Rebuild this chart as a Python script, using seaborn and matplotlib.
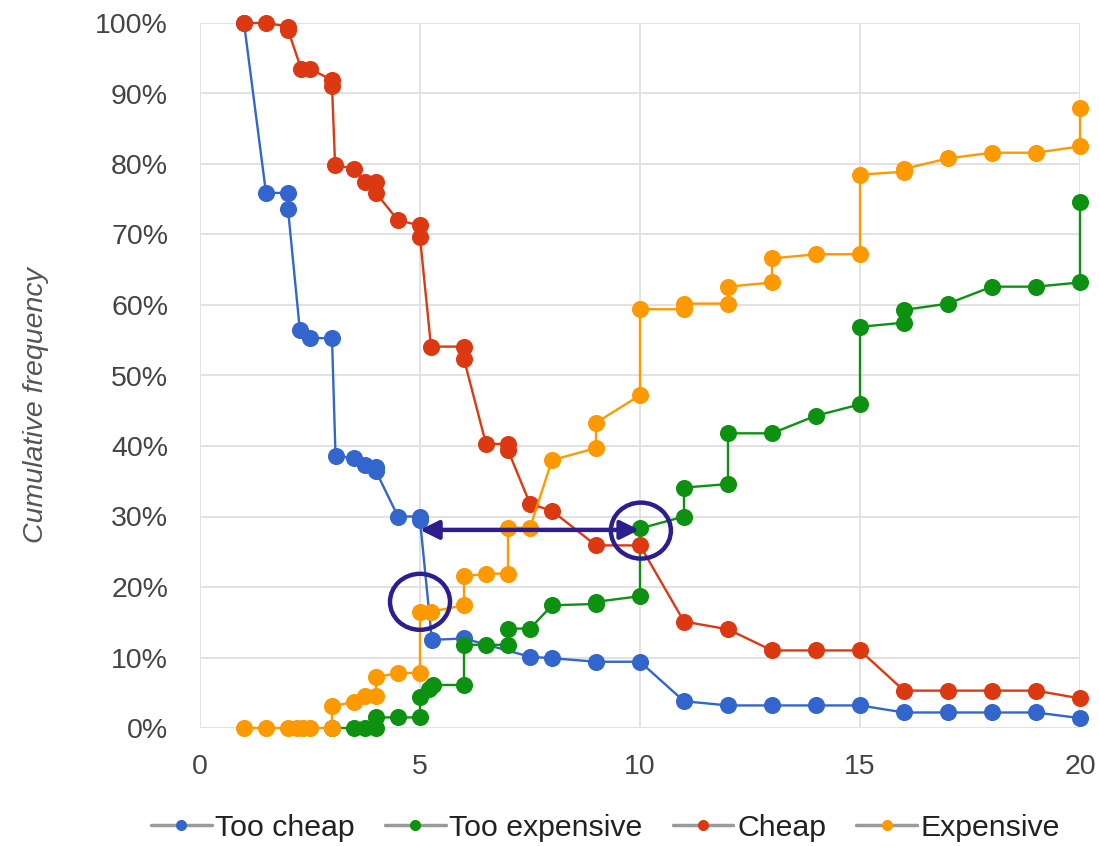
import matplotlib
matplotlib.use("Agg")
import matplotlib.pyplot as plt
from matplotlib.lines import Line2D
from matplotlib.patches import Ellipse
from matplotlib.ticker import PercentFormatter, MultipleLocator
import seaborn as sns
import pandas as pd

# ---------------- data ----------------
too_cheap_x = [1, 1.5, 2, 2, 2.27, 2.5, 3, 3.08, 3.5, 3.75, 4, 4, 4.5, 5, 5, 5.27, 6,
               7.5, 8, 9, 10, 11, 12, 13, 14, 15, 16, 17, 18, 19, 20]
too_cheap_y = [100, 75.9, 75.9, 73.6, 56.4, 55.3, 55.3, 38.6, 38.3, 37.3, 37.0, 36.4, 30.0,
               30.0, 29.5, 12.5, 12.7, 10.1, 9.9, 9.4, 9.4, 3.8, 3.2, 3.2, 3.2, 3.2, 2.2,
               2.2, 2.2, 2.2, 1.4]

too_exp_x = [3, 3.5, 3.75, 4, 4, 4.5, 5, 5, 5.2, 5.3, 6, 6, 6.5, 7, 7, 7.5, 8, 9, 9, 10, 10,
             11, 11, 12, 12, 13, 14, 15, 15, 16, 16, 17, 18, 19, 20, 20]
too_exp_y = [0, 0, 0, 0, 1.5, 1.5, 1.5, 4.4, 5.5, 6.1, 6.1, 11.8, 11.8, 11.8, 14.1, 14.1,
             17.4, 17.6, 17.9, 18.7, 28.3, 30.0, 34.1, 34.6, 41.8, 41.8, 44.3, 45.9, 56.9,
             57.5, 59.3, 60.2, 62.6, 62.6, 63.2, 74.6]

cheap_x = [1, 1.5, 2, 2, 2.3, 2.5, 3, 3, 3.07, 3.5, 3.75, 4, 4, 4.5, 5, 5, 5.25, 6, 6, 6.5,
           7, 7, 7.5, 8, 9, 10, 11, 12, 13, 14, 15, 16, 17, 18, 19, 20]
cheap_y = [100, 100, 99.5, 99.0, 93.5, 93.5, 91.9, 91.1, 79.9, 79.3, 77.5, 77.5, 75.9, 72.0,
           71.3, 69.6, 54.1, 54.1, 52.3, 40.3, 40.3, 39.4, 31.8, 30.8, 25.9, 25.9, 15.1,
           14.0, 11.0, 11.0, 11.0, 5.3, 5.3, 5.3, 5.3, 4.2]

exp_x = [1, 1.5, 2, 2.2, 2.35, 2.5, 3, 3, 3.5, 3.75, 4, 4, 4.5, 5, 5, 5.25, 6, 6, 6.5, 7, 7,
         7.5, 8, 9, 9, 10, 10, 11, 11, 12, 12, 13, 13, 14, 15, 15, 16, 16, 17, 18, 19, 20, 20]
exp_y = [0, 0, 0, 0, 0, 0, 0, 3.1, 3.7, 4.6, 4.6, 7.2, 7.8, 7.8, 16.4, 16.5, 17.4, 21.5,
         21.9, 21.9, 28.4, 28.4, 38.0, 39.7, 43.3, 47.2, 59.4, 59.4, 60.2, 60.2, 62.6, 63.2,
         66.6, 67.2, 67.2, 78.5, 78.9, 79.3, 80.8, 81.6, 81.6, 82.5, 87.9]

series_names = ["Too cheap", "Too expensive", "Cheap", "Expensive"]
series_colors = ["#3366CC", "#0C9210", "#DC3912", "#FF9900"]
x_ticks = [0, 5, 10, 15, 20]

# annotation targets (data units)
arrow_y = 28.1
arrow_x0, arrow_x1 = 5, 10
circle_centres = [(5.0, 17.9), (10.02, 28.0)]

# ---------------- frame ----------------
frames = []
for name, xs, ys in zip(series_names,
                        [too_cheap_x, too_exp_x, cheap_x, exp_x],
                        [too_cheap_y, too_exp_y, cheap_y, exp_y]):
    frames.append(pd.DataFrame({"price": xs, "freq": ys, "series": name}))
df = pd.concat(frames, ignore_index=True)

sns.set_theme(style="white")
plt.rcParams["font.family"] = ["Liberation Sans", "DejaVu Sans"]

fig = plt.figure(figsize=(10.99, 8.46), dpi=100)
ax = fig.add_axes([200 / 1099, 1 - 728 / 846, 880 / 1099, 705 / 846])

sns.lineplot(data=df, x="price", y="freq", hue="series", hue_order=series_names,
             palette=series_colors, estimator=None, sort=False, marker="o",
             markersize=12.3, markeredgewidth=0, linewidth=1.7, legend=False,
             ax=ax, clip_on=False, zorder=3)

ax.set_xlim(0, 20)
ax.set_ylim(0, 100)
ax.set_xticks(x_ticks)
ax.yaxis.set_major_locator(MultipleLocator(10))
ax.yaxis.set_major_formatter(PercentFormatter(xmax=100, decimals=0))
ax.grid(True, color="#e2e2e2", linewidth=1.4)
ax.set_axisbelow(True)
for s in ax.spines.values():
    s.set_visible(False)
ax.tick_params(axis="both", length=0, labelsize=20.5, labelcolor="#444444")
ax.tick_params(axis="y", pad=23)
ax.tick_params(axis="x", pad=19)
ax.set_xlabel("")
ax.set_ylabel("Cumulative frequency", style="italic", fontsize=20.5, color="#555555")
ax.yaxis.set_label_coords(-0.1716, 0.458)

# annotations
navy = "#2C1E8E"
ax.annotate("", xy=(arrow_x0, arrow_y), xytext=(arrow_x1 - 0.02, arrow_y),
            arrowprops=dict(arrowstyle="<|-|>", color=navy, lw=3.2,
                            mutation_scale=28, shrinkA=0, shrinkB=0), zorder=5)
for cx, cy in circle_centres:
    ax.add_patch(Ellipse((cx, cy), width=60 / 44, height=56 / 7.05, fill=False,
                         edgecolor=navy, linewidth=3.2, zorder=6, clip_on=False))

# legend
handles = [Line2D([0], [0], color="#9a9a9a", lw=2.5, marker="o", markersize=7,
                  markerfacecolor=c, markeredgecolor=c) for c in series_colors]
fig.legend(handles, series_names, loc="center", bbox_to_anchor=(0.551, 1 - 828 / 846),
           ncol=4, frameon=False, fontsize=21.8, handlelength=2.0, handletextpad=0.12,
           columnspacing=1.0, labelcolor="#222222")

fig.savefig("out.png", dpi=100)
